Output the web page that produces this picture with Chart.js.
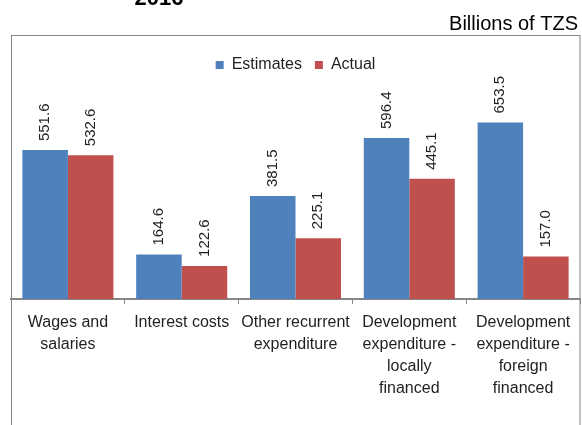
<!DOCTYPE html>
<html>
<head>
<meta charset="utf-8">
<script src="https://cdn.jsdelivr.net/npm/chart.js@4.4.1/dist/chart.umd.min.js"></script>
<style>
  html, body { margin: 0; padding: 0; background: #ffffff; }
  #wrap { width: 582px; height: 425px; }
</style>
</head>
<body>
<div id="wrap"><canvas id="chart" width="582" height="425"></canvas></div>
<script>
// budget execution, billions of TZS
const categories = [
    ["Wages and", "salaries"],
    ["Interest costs"],
    ["Other recurrent", "expenditure"],
    ["Development", "expenditure -", "locally", "financed"],
    ["Development", "expenditure -", "foreign", "financed"]
];
const estimates = [551.6, 164.6, 381.5, 596.4, 653.5];
const actual = [532.6, 122.6, 225.1, 445.1, 157.0];

const FONT = "'Liberation Sans', Arial, sans-serif";
const TEXT = "#1f1f1f";
const GREY = "#868686";

// frame, year heading and unit note
const framePlugin = {
    id: "frame",
    beforeDraw(chart) {
        const ctx = chart.ctx;
        ctx.save();
        ctx.fillStyle = "#ffffff";
        ctx.fillRect(0, 0, chart.width, chart.height);
        ctx.strokeStyle = GREY;
        ctx.lineWidth = 1;
        ctx.strokeRect(11.5, 35.5, 568.5, 500);

        ctx.fillStyle = "#000000";
        ctx.font = "bold 22px " + FONT;
        ctx.textAlign = "center";
        ctx.textBaseline = "alphabetic";
        ctx.fillText("2016", 159, 5);

        ctx.font = "20px " + FONT;
        ctx.textAlign = "right";
        ctx.fillText("Billions of TZS", 578, 30);
        ctx.restore();
    }
};

// vertical value labels above each bar
const valueLabels = {
    id: "valueLabels",
    afterDatasetsDraw(chart) {
        const ctx = chart.ctx;
        ctx.save();
        ctx.fillStyle = TEXT;
        ctx.font = "15px " + FONT;
        ctx.textAlign = "left";
        ctx.textBaseline = "middle";
        chart.data.datasets.forEach((ds, i) => {
            chart.getDatasetMeta(i).data.forEach((bar, j) => {
                ctx.save();
                ctx.translate(bar.x, bar.y - 9);
                ctx.rotate(-Math.PI / 2);
                ctx.fillText(ds.data[j].toFixed(1), 0, 0);
                ctx.restore();
            });
        });
        ctx.restore();
    }
};

new Chart(document.getElementById("chart"), {
    type: "bar",
    data: {
        labels: categories,
        datasets: [
            {
                label: "Estimates",
                data: estimates,
                backgroundColor: "#4f81bd",
                categoryPercentage: 0.8,
                barPercentage: 1.0
            },
            {
                label: "Actual",
                data: actual,
                backgroundColor: "#c0504d",
                categoryPercentage: 0.8,
                barPercentage: 1.0
            }
        ]
    },
    options: {
        responsive: false,
        animation: false,
        devicePixelRatio: 1,
        layout: { padding: { top: 44, left: 11, right: 2, bottom: 0 } },
        plugins: {
            legend: {
                position: "top",
                labels: {
                    boxWidth: 8,
                    boxHeight: 8,
                    padding: 13,
                    color: TEXT,
                    font: { family: FONT, size: 16 }
                }
            },
            tooltip: { enabled: false }
        },
        scales: {
            y: { display: false, min: 0, max: 800 },
            x: {
                afterFit(scale) { scale.height = 126; },
                grid: {
                    display: true,
                    drawOnChartArea: false,
                    drawTicks: true,
                    tickLength: 5,
                    color: GREY
                },
                border: { display: true, color: GREY, width: 2 },
                ticks: {
                    color: TEXT,
                    font: { family: FONT, size: 16, lineHeight: 1.375 },
                    padding: 8,
                    maxRotation: 0,
                    minRotation: 0,
                    autoSkip: false
                }
            }
        }
    },
    plugins: [framePlugin, valueLabels]
});
</script>
</body>
</html>
